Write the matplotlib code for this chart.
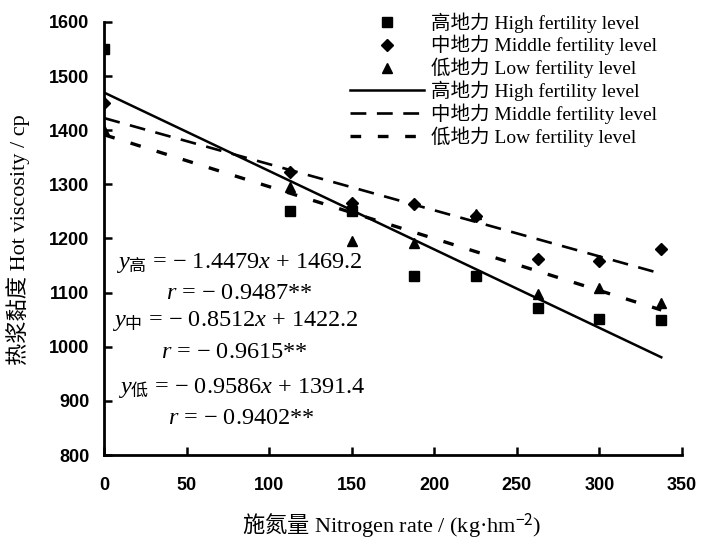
import numpy as np
import matplotlib
matplotlib.use("Agg")
import matplotlib.pyplot as plt

plt.rcParams["mathtext.fontset"] = "custom"
plt.rcParams["mathtext.it"] = "Liberation Serif:italic"
plt.rcParams["mathtext.rm"] = "Noto Sans CJK SC"

SERIF = ["Liberation Serif", "Noto Sans CJK SC"]

# ── Data ─────────────────────────────────────────────────────────────────────
nitrogen = [0, 112.5, 150, 187.5, 225, 262.5, 300, 337.5]
high = [1550, 1250, 1250, 1130, 1130, 1072, 1052, 1050]
middle = [1450, 1322, 1265, 1263, 1242, 1162, 1158, 1180]
low = [1400, 1295, 1195, 1192, 1245, 1098, 1108, 1081]

slopes = [-1.4479, -0.8512, -0.9586]
intercepts = [1469.2, 1422.2, 1391.4]
r_values = ["-0.9487**", "-0.9615**", "-0.9402**"]

level_cn = ["高地力", "中地力", "低地力"]
level_en = ["High fertility level", "Middle fertility level", "Low fertility level"]
sub_cn = ["高", "中", "低"]

x_ticks = [0, 50, 100, 150, 200, 250, 300, 350]
y_ticks = [800, 900, 1000, 1100, 1200, 1300, 1400, 1500, 1600]

# ── Figure ───────────────────────────────────────────────────────────────────
fig = plt.figure(figsize=(7.03, 5.48), dpi=100)
ax = fig.add_axes([0.1486, 0.1697, 0.8214, 0.7903])

markers = ["s", "D", "^"]
msizes = [7, 6.5, 7]
series = [high, middle, low]
for i in range(3):
    ax.plot(nitrogen, series[i], linestyle="none", marker=markers[i],
            markersize=msizes[i], color="black",
            label=f"{level_cn[i]} {level_en[i]}")

line_styles = [
    dict(linestyle="-", linewidth=1.8),
    dict(linestyle=(0, (6, 4)), linewidth=1.9),
    dict(linestyle=(0, (3.2, 5)), linewidth=2.4),
]
fit_x = np.array([0, 337.5])
for i in range(3):
    ax.plot(fit_x, slopes[i] * fit_x + intercepts[i], color="black",
            label=f"{level_cn[i]} {level_en[i]}", **line_styles[i])

# regression equations
eq_pos = [(82, 1155), (82, 1098), (79, 1048), (79, 989), (83, 923), (83, 868)]
for i in range(3):
    eq = f"$y_{{\\mathrm{{{sub_cn[i]}}}}}$ = \u2212 {abs(slopes[i]):.4f}$x$ + {intercepts[i]:.1f}"
    rr = f"$r$ = \u2212 {r_values[i][1:]}"
    ax.text(*eq_pos[2 * i], eq, ha="center", va="center", fontsize=17.5,
            family=SERIF)
    ax.text(*eq_pos[2 * i + 1], rr, ha="center", va="center", fontsize=17.5,
            family=SERIF)

ax.set_xlim(0, 350)
ax.set_ylim(800, 1600)
ax.set_xticks(x_ticks)
ax.set_yticks(y_ticks)
ax.set_xticklabels([str(t) for t in x_ticks], family="Liberation Sans",
                   fontweight="bold", fontsize=13)
ax.set_yticklabels([str(t) for t in y_ticks], family="Liberation Sans",
                   fontweight="bold", fontsize=13)
ax.tick_params(axis="both", direction="in", length=6, width=1.8)
ax.tick_params(axis="x", pad=16)
ax.tick_params(axis="y", pad=11)
for s in ["top", "right"]:
    ax.spines[s].set_visible(False)
for s in ["left", "bottom"]:
    ax.spines[s].set_linewidth(2)

fig.text(18 / 703, 1 - 240 / 548, "热浆黏度 Hot viscosity / cp", rotation=90,
         ha="center", va="center", fontsize=16, family=SERIF)
fig.text(392 / 703, 1 - 525 / 548,
         "$\\mathrm{施氮量}$ Nitrogen rate / (kg·hm$^{\\mathrm{-2}}$)",
         ha="center", va="center", fontsize=16, family=SERIF)

leg = ax.legend(loc="upper left", bbox_to_anchor=(350 / 703, 1 - 12 / 548),
                bbox_transform=fig.transFigure, frameon=False,
                prop={"family": SERIF, "size": 14}, handlelength=3.8,
                handletextpad=0.35, labelspacing=0.12, borderpad=0,
                borderaxespad=0)

fig.savefig("out.png", dpi=100)
